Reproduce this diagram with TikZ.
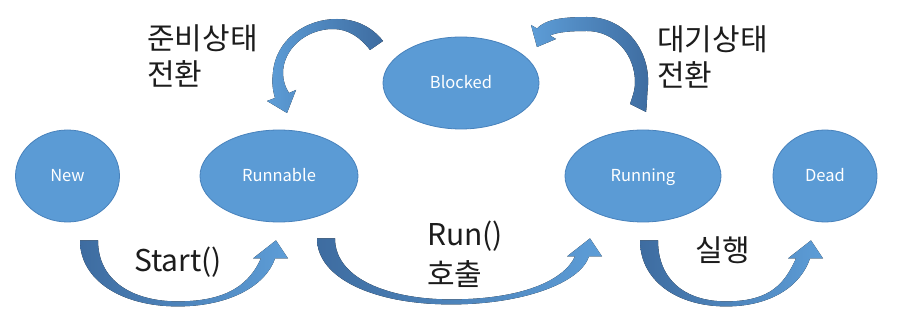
\documentclass[tikz,border=0pt]{standalone}
\usepackage{fontspec}
\setmainfont{Noto Sans CJK KR}
\usetikzlibrary{shapes.geometric,calc}
\definecolor{nodeblue}{RGB}{91,155,213}
\definecolor{nodeedge}{RGB}{72,130,188}
\definecolor{arrdark}{RGB}{62,108,160}
\definecolor{arrlight}{RGB}{93,157,215}
\definecolor{labelink}{RGB}{28,28,28}
\tikzset{
  state/.style={ellipse, fill=nodeblue, draw=nodeedge, line width=0.8pt, text=white,
    font=\fontsize{16.5}{18}\selectfont, inner sep=0pt, text height=13.5pt, text depth=1.5pt},
  lbl/.style={font=\fontsize{30}{36}\selectfont, text=labelink, inner sep=0pt, anchor=base west},
  uarrow/.style={left color=arrdark, right color=arrlight, draw=none},
  oarrow/.style={left color=arrlight, right color=arrdark, draw=none},
}
\newcommand{\uarr}[2]{%
  \begin{scope}[shift={#1}]
    \fill[uarrow] (0,0) .. controls (0,40) and ({0.2*#2},66) .. ({0.47*#2},66)
      .. controls ({0.72*#2},66) and ({#2-22},45) .. ({#2-13},18)
      -- (#2,18) -- ({#2-12},0) -- ({#2-35},18) -- ({#2-27},18)
      .. controls ({#2-38},42) and ({0.72*#2},61) .. ({0.47*#2},61)
      .. controls ({0.25*#2},61) and (18,40) .. (18,0) -- cycle;
  \end{scope}}
\begin{document}
\begin{tikzpicture}[x=1pt,y=-1pt]
\useasboundingbox (0,0) rectangle (897,320);
\fill[white] (0,0) rectangle (897,320);

% states
\node[state, minimum width=104, minimum height=92] (new) at (67.5,176) {New};
\node[state, minimum width=158, minimum height=92] (runnable) at (279,176) {Runnable};
\node[state, minimum width=156, minimum height=92] (blocked) at (461,83) {Blocked};
\node[state, minimum width=156, minimum height=92] (running) at (643,176) {Running};
\node[state, minimum width=104, minimum height=92] (dead) at (825,176) {Dead};

% bottom curved arrows
\uarr{($(new.south)+(12.5,18)$)}{208}
\uarr{($(runnable.south)+(38,16)$)}{285}
\uarr{($(running.south)+(-3,18)$)}{183}

% Blocked -> Runnable (top left)
\fill[oarrow] (275,98) .. controls (272,88) and (272,80) .. (273,72)
  .. controls (276,40) and (305,19) .. (337,19)
  .. controls (357,19) and (373,28) .. (383,41)
  -- (370,50) .. controls (360,37) and (348,29) .. (333,29)
  .. controls (305,29) and (283,50) .. (283,73)
  .. controls (283,80) and (285,87) .. (289,93)
  -- (296,90) -- (287,113) -- (267,101) -- cycle;

% Running -> Blocked (top right)
\fill[oarrow] (537,28.5) .. controls (545,20) and (560,17) .. (587,17)
  .. controls (625,17) and (650,50) .. (648,85)
  .. controls (647,95) and (647,105) .. (646,112)
  -- (630,104) .. controls (633,95) and (635,90) .. (635,82)
  .. controls (635,55) and (615,31) .. (587,31)
  .. controls (570,31) and (558,32) .. (550,35.5)
  -- (556,39) -- (537,47) -- (531,25) -- cycle;

% labels
\node[lbl] (l1a) at (147,50) {준비상태};
\node[lbl] (l1b) at (147,86) {전환};
\node[lbl] (l2a) at (657,51) {대기상태};
\node[lbl] (l2b) at (657,87) {전환};
\node[lbl] (l3) at (134,272) {Start()};
\node[lbl] (l4a) at (427,246) {Run()};
\node[lbl] (l4b) at (427,286) {호출};
\node[lbl] (l5) at (695,262) {실행};
\end{tikzpicture}
\end{document}
